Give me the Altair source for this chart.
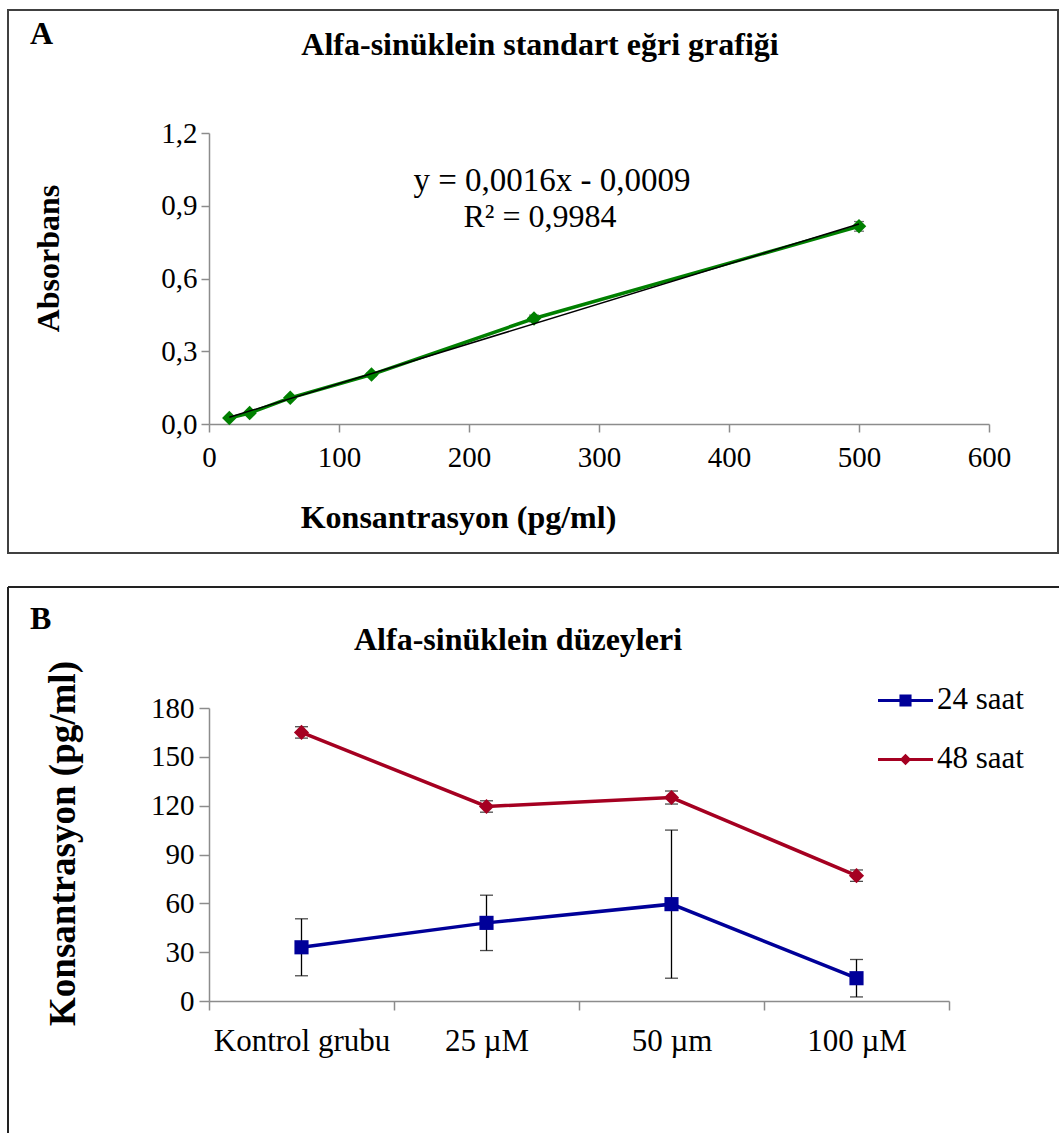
import altair as alt
import pandas as pd

SERIF = "Liberation Serif"

# ---------------- Panel A data (standard curve) ----------------
conc = [15.625, 31.25, 62.5, 125, 250, 500]
absorb = [0.025, 0.045, 0.108, 0.204, 0.435, 0.815]
absorb_err = [0.004, 0.005, 0.006, 0.008, 0.014, 0.02]
a_x_ticks = [0, 100, 200, 300, 400, 500, 600]
a_y_ticks = [0.0, 0.3, 0.6, 0.9, 1.2]
a_title = "Alfa-sinüklein standart eğri grafiği"
a_xtitle = "Konsantrasyon (pg/ml)"
a_ytitle = "Absorbans"
a_eq = ["y = 0,0016x - 0,0009", "R² = 0,9984"]

# ---------------- Panel B data (levels) ----------------
groups = ["Kontrol grubu", "25 µM", "50 µm", "100 µM"]
series = ["24 saat", "48 saat"]
val_24 = [33, 48, 59.5, 14]
err_24 = [17.5, 17, 45.5, 11.5]
val_48 = [165, 119.5, 125, 77]
err_48 = [3.5, 3.5, 4, 3.5]
b_y_ticks = [0, 30, 60, 90, 120, 150, 180]
b_title = "Alfa-sinüklein düzeyleri"
b_ytitle = "Konsantrasyon (pg/ml)"
panel_letters = ["A", "B"]

GREEN = "#008000"
BLUE = "#000099"
RED = "#A50021"
AXIS_GRAY = "#8c8c8c"

one = pd.DataFrame({"k": [0]})


def label(text, x, y, size, bold=False, align="center"):
    return alt.Chart(one).mark_text(
        text=text, font=SERIF, fontSize=size,
        fontWeight="bold" if bold else "normal",
        align=align, baseline="middle", color="black"
    ).encode(x=alt.value(x), y=alt.value(y))


# ---------------- Panel A ----------------
dfA = pd.DataFrame({
    "x": conc,
    "y": absorb,
    "lo": [v - e for v, e in zip(absorb, absorb_err)],
    "hi": [v + e for v, e in zip(absorb, absorb_err)],
})

xA = alt.X("x:Q", scale=alt.Scale(domain=[0, 600], nice=False),
           axis=alt.Axis(values=a_x_ticks, title=a_xtitle, titleX=249, titleY=93,
                         titleAlign="center", titleBaseline="middle", labelPadding=11,
                         labelFlush=False))
yA = alt.Y("y:Q", scale=alt.Scale(domain=[0, 1.2], nice=False),
           axis=alt.Axis(values=a_y_ticks, title=a_ytitle, titleX=-161, titleY=125,
                         titleAngle=270, titleAlign="center", titleBaseline="middle",
                         labelExpr="replace(format(datum.value, '.1f'), '.', ',')",
                         labelPadding=4, labelFlush=False))

baseA = alt.Chart(dfA)
borderA = alt.Chart(one).mark_rect(fillOpacity=0, stroke="#404040", strokeWidth=2).encode(
    x=alt.value(-201), x2=alt.value(849), y=alt.value(-123), y2=alt.value(420))
errA = baseA.mark_rule(color="#333333", strokeWidth=1.2).encode(
    x=xA, y=alt.Y("lo:Q"), y2="hi:Q")
capA_lo = baseA.mark_tick(orient="horizontal", size=10, thickness=1.2, color="#333333").encode(
    x="x:Q", y="lo:Q")
capA_hi = baseA.mark_tick(orient="horizontal", size=10, thickness=1.2, color="#333333").encode(
    x="x:Q", y="hi:Q")
lineA = baseA.mark_line(color=GREEN, strokeWidth=3.5).encode(x=xA, y=yA)
ptsA = baseA.mark_point(shape="diamond", filled=True, size=210, color=GREEN, opacity=1).encode(
    x="x:Q", y="y:Q")
trendA = baseA.transform_regression("x", "y").mark_line(color="black", strokeWidth=1.5).encode(
    x="x:Q", y="y:Q")

panelA = alt.layer(
    borderA, lineA, errA, capA_lo, capA_hi, ptsA, trendA,
    label(panel_letters[0], -179, -99, 32, bold=True, align="left"),
    label(a_title, 331, -88, 32, bold=True),
    label(a_eq[0], 343, 48, 33),
    label(a_eq[1], 331, 84, 32),
).properties(width=780, height=291)

# ---------------- Panel B ----------------
rows = []
for s, vals, errs in [(series[0], val_24, err_24), (series[1], val_48, err_48)]:
    for g, v, e in zip(groups, vals, errs):
        rows.append({"group": g, "series": s, "v": v, "lo": v - e, "hi": v + e})
dfB = pd.DataFrame(rows)

xB = alt.X("group:N", sort=groups,
           scale=alt.Scale(type="band", paddingInner=0, paddingOuter=0),
           axis=alt.Axis(title=None, tickBand="extent", labelAngle=0, labelPadding=16,
                         tickSize=9, labelFontSize=31))
yB = alt.Y("v:Q", scale=alt.Scale(domain=[0, 180], nice=False),
           axis=alt.Axis(values=b_y_ticks, format="d", title=b_ytitle, titleX=-146, titleY=135,
                         titleAngle=270, titleAlign="center", titleBaseline="middle",
                         titleFontSize=37, labelPadding=5, tickSize=10, labelFlush=False))
colB = alt.Scale(domain=series, range=[BLUE, RED])

baseB = alt.Chart(dfB)
topB = alt.Chart(one).mark_rule(color="#222222", strokeWidth=2).encode(
    x=alt.value(-201), x2=alt.value(850), y=alt.value(-121))
leftB = alt.Chart(one).mark_rule(color="#222222", strokeWidth=2).encode(
    x=alt.value(-201), y=alt.value(-121), y2=alt.value(425))
errB = baseB.mark_rule(color="black", strokeWidth=1.3).encode(
    x=xB, y=alt.Y("lo:Q"), y2="hi:Q")
capB_lo = baseB.mark_tick(orient="horizontal", size=13, thickness=1.3, color="black").encode(
    x=alt.X("group:N", sort=groups), y="lo:Q")
capB_hi = baseB.mark_tick(orient="horizontal", size=13, thickness=1.3, color="black").encode(
    x=alt.X("group:N", sort=groups), y="hi:Q")
lineB = baseB.mark_line(strokeWidth=3.5).encode(
    x=xB, y=yB, color=alt.Color("series:N", scale=colB, legend=None))
ptsB = baseB.mark_point(filled=True, opacity=1).encode(
    x=alt.X("group:N", sort=groups), y="v:Q",
    color=alt.Color("series:N", scale=colB, legend=None),
    shape=alt.Shape("series:N", scale=alt.Scale(domain=series, range=["square", "diamond"]),
                    legend=None),
    size=alt.Size("series:N", scale=alt.Scale(domain=series, range=[200, 230]), legend=None))

leg_paths = [
    "M-1,-0.055H1V0.055H-1Z M-0.22,-0.22H0.22V0.22H-0.22Z",
    "M-1,-0.055H1V0.055H-1Z M0,-0.21L0.21,0L0,0.21L-0.21,0Z",
]
leg_common = dict(orient="none", legendX=669, legendY=-35, title=None,
                  labelFont=SERIF, labelFontSize=31, labelColor="black", labelOpacity=0,
                  symbolSize=3025, symbolStrokeWidth=0, symbolOpacity=1,
                  rowPadding=16, padding=0, labelOffset=4)
legB = baseB.transform_filter("false").mark_point(filled=True, size=3025, opacity=1).encode(
    color=alt.Color("series:N", scale=alt.Scale(domain=series, range=[BLUE, RED]),
                    legend=alt.Legend(**leg_common)),
    shape=alt.Shape("series:N", scale=alt.Scale(domain=series, range=leg_paths),
                    legend=alt.Legend(**leg_common)),
)

panelB = alt.layer(
    topB, leftB, lineB, errB, capB_lo, capB_hi, ptsB, legB,
    label(series[0], 728, -8, 31, align="left"),
    label(series[1], 728, 51, 31, align="left"),
    label(panel_letters[1], -179, -89, 32, bold=True, align="left"),
    label(b_title, 309, -68, 32, bold=True),
).resolve_scale(color="independent", shape="independent", size="independent").properties(
    width=740, height=293)

chart = alt.vconcat(panelA, panelB, spacing=32).properties(
    padding={"left": 7, "top": 9, "right": 0, "bottom": 0},
    background="white",
).configure_view(stroke=None).configure_axis(
    labelFont=SERIF, labelFontSize=29, labelColor="black",
    titleFont=SERIF, titleFontSize=32, titleFontWeight="bold", titleColor="black",
    domainColor=AXIS_GRAY, tickColor=AXIS_GRAY, domainWidth=1.5, tickWidth=1.5,
    tickSize=8, grid=False,
).configure_legend(labelFont=SERIF, labelFontSize=31, labelColor="black")

chart.save("out.html", embed_options={"renderer": "svg", "actions": False})
